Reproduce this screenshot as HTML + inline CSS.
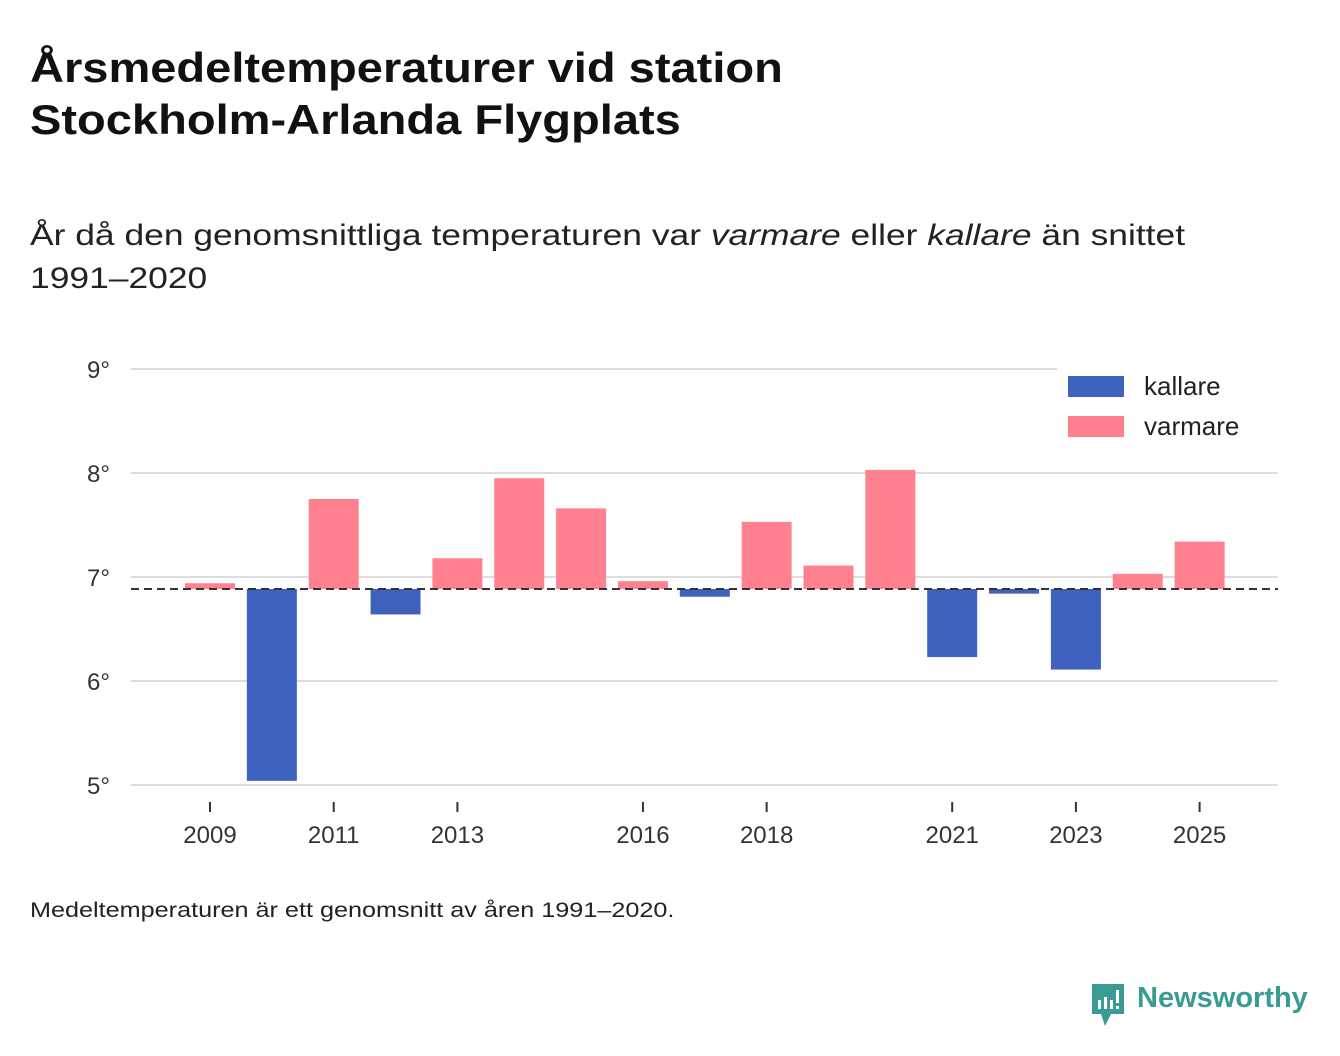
<!DOCTYPE html>
<html><head><meta charset="utf-8"><style>
body{margin:0;width:1340px;height:1056px;background:#fff;font-family:"Liberation Sans",sans-serif;color:#111;position:relative;overflow:hidden}
.t{position:absolute;left:30px;top:42px;font-size:42px;font-weight:bold;line-height:52px;color:#111;transform:scaleX(1.12);transform-origin:left top;white-space:nowrap}
.s{position:absolute;left:30px;top:214px;font-size:30px;line-height:43px;color:#222;transform:scaleX(1.18);transform-origin:left top;white-space:nowrap}
.f{position:absolute;left:30px;top:899px;font-size:21px;color:#222;transform:scaleX(1.2);transform-origin:left top;white-space:nowrap}
.logo{position:absolute;left:1137px;top:982px;font-size:29px;font-weight:bold;color:#3a9a94}
</style></head><body>
<div class="t">Årsmedeltemperaturer vid station<br>Stockholm-Arlanda Flygplats</div>
<div class="s">År då den genomsnittliga temperaturen var <i>varmare</i> eller <i>kallare</i> än snittet<br>1991–2020</div>
<svg id="c" width="1340" height="1056" style="position:absolute;left:0;top:0"></svg>
<div class="f">Medeltemperaturen är ett genomsnitt av åren 1991–2020.</div>
<svg style="position:absolute;left:1089px;top:983px" width="38" height="44"><path d="M3 1h32v30H22l-6 12-4-12H3z" fill="#3a9a94"/><rect x="9" y="17" width="3" height="9" fill="#fff"/><rect x="15" y="14" width="3" height="12" fill="#fff"/><rect x="21" y="17" width="3" height="9" fill="#fff"/><rect x="27" y="7" width="3" height="13" fill="#fff"/><rect x="27" y="23" width="3" height="3" fill="#fff"/></svg>
<div class="logo">Newsworthy</div>
<script>
const years=[2009,2010,2011,2012,2013,2014,2015,2016,2017,2018,2019,2020,2021,2022,2023,2024,2025];
const temps=[6.94,5.04,7.75,6.64,7.18,7.95,7.66,6.96,6.81,7.53,7.11,8.03,6.23,6.84,6.11,7.03,7.34];
const baseline=6.885;
const yTicks=[5,6,7,8,9];
const xTicks=[2009,2011,2013,2016,2018,2021,2023,2025];
const svg=document.getElementById('c');const NS='http://www.w3.org/2000/svg';
const y=v=>577-(v-7)*104;
const x=yr=>210+(yr-2009)*61.85;
function el(t,a){const e=document.createElementNS(NS,t);for(const k in a)e.setAttribute(k,a[k]);svg.appendChild(e);return e;}
yTicks.forEach(t=>{
 const l=el('line',{x1:131,x2:1278,y1:y(t),y2:y(t),stroke:'#ddd','stroke-width':2});
 
 
 const tx=el('text',{x:110,y:y(t)+9,'text-anchor':'end','font-size':24,fill:'#333','font-family':'Liberation Sans, sans-serif'});
 tx.textContent=t+'°';
 
 
});
years.forEach((yr,i)=>{
 const v=temps[i];const top=Math.min(y(v),y(baseline)),h=Math.abs(y(v)-y(baseline));
 const r=el('rect',{x:x(yr)-25,y:top,width:50,height:h,fill:v<baseline?'#3f62be':'#ff808f'});
 
 
});
const bl=el('line',{x1:131,x2:1278,y1:y(baseline),y2:y(baseline),stroke:'#333','stroke-width':2,'stroke-dasharray':'8,5'});


xTicks.forEach(t=>{
 const l=el('line',{x1:x(t),x2:x(t),y1:802,y2:812,stroke:'#333','stroke-width':2});
 
 
 const tx=el('text',{x:x(t),y:843,'text-anchor':'middle','font-size':24,fill:'#333','font-family':'Liberation Sans, sans-serif'});
 tx.textContent=t;
 
 
});
const lg=el('rect',{x:1057,y:364,width:221,height:84,fill:'#fff'});


[['kallare','#3f62be',376],['varmare','#ff808f',416]].forEach(([n,c,yy])=>{
 const r=el('rect',{x:1068,y:yy,width:56,height:21,fill:c});
 
 
 const tx=el('text',{x:1144,y:yy+19,'font-size':26,fill:'#222','font-family':'Liberation Sans, sans-serif'});
 tx.textContent=n;
 
 
});
</script>
</body></html>
